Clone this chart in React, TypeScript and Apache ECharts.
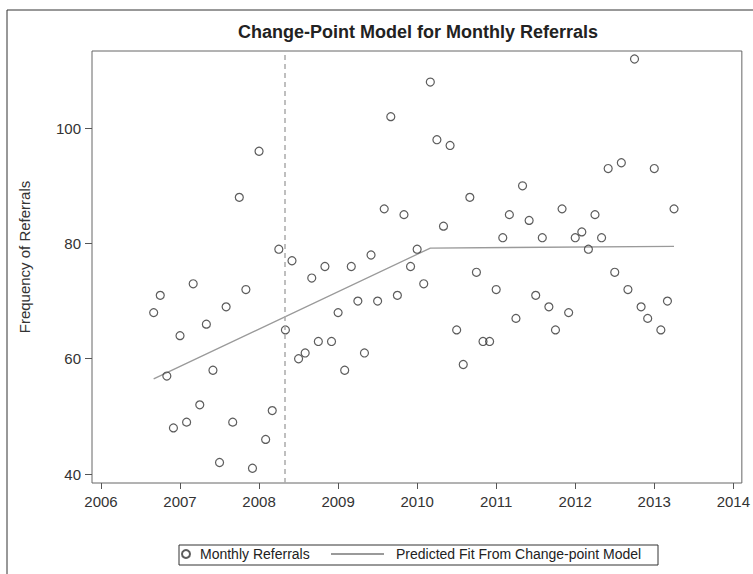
import React, { useEffect, useRef } from "react";
import * as echarts from "echarts";

// Monthly referrals, Sep 2006 .. Apr 2013
const startYear = 2006;
const startMonth = 9;
const referrals = [
  68, 71, 57, 48,
  64, 49, 73, 52, 66, 58, 42, 69, 49, 88, 72, 41,
  96, 46, 51, 79, 65, 77, 60, 61, 74, 63, 76, 63,
  68, 58, 76, 70, 61, 78, 70, 86, 102, 71, 85, 76,
  79, 73, 108, 98, 83, 97, 65, 59, 88, 75, 63, 63,
  72, 81, 85, 67, 90, 84, 71, 81, 69, 65, 86, 68,
  81, 82, 79, 85, 81, 93, 75, 94, 72, 112, 69, 67,
  93, 65, 70, 86,
];

// Predicted fit from change-point model: [year, month] and value
const fitMonths = [
  [2006, 9],
  [2010, 3],
  [2013, 4],
];
const fitValues = [56.5, 79.2, 79.5];

// Change point (dashed reference line)
const changePoint = [2008, 5];

const xTicks = [2006, 2007, 2008, 2009, 2010, 2011, 2012, 2013, 2014];
const yTicks = [40, 60, 80, 100];

const toYear = (y: number, m: number) => y + (m - 1) / 12;

const FONT = "'Liberation Sans', Arial, sans-serif";

export default function App() {
  const ref = useRef<HTMLDivElement>(null);

  useEffect(() => {
    document.body.style.margin = "0";
    if (!ref.current) return;
    const chart = echarts.init(ref.current, null, { renderer: "svg" });

    const startX = toYear(startYear, startMonth);
    const scatterData = referrals.map((v, i) => [startX + i / 12, v]);
    const fitData = fitMonths.map((ym, i) => [toYear(ym[0], ym[1]), fitValues[i]]);
    const cpX = toYear(changePoint[0], changePoint[1]);

    chart.setOption({
      animation: false,
      backgroundColor: "#fff",
      title: {
        text: "Change-Point Model for Monthly Referrals",
        left: 418,
        top: 23,
        padding: 0,
        textAlign: "center",
        textStyle: { fontFamily: FONT, fontSize: 18, fontWeight: "bold", color: "#222" },
      },
      grid: {
        left: 92,
        right: 9,
        top: 51,
        bottom: 91,
        show: true,
        borderColor: "#666",
        borderWidth: 1,
        backgroundColor: "transparent",
      },
      xAxis: {
        type: "value",
        min: 2005.8865,
        max: 2014.108,
        axisLine: { show: false },
        splitLine: { show: false },
        axisTick: {
          show: true,
          length: 6,
          lineStyle: { color: "#555" },
          customValues: xTicks,
        },
        axisLabel: {
          fontFamily: FONT,
          fontSize: 15,
          color: "#333",
          margin: 11,
          customValues: xTicks,
          formatter: (v: number) => String(v),
        },
      },
      yAxis: {
        type: "value",
        min: 38.44,
        max: 113.39,
        name: "Frequency of Referrals",
        nameLocation: "middle",
        nameRotate: 90,
        nameGap: 60,
        nameTextStyle: { fontFamily: FONT, fontSize: 15, color: "#333", padding: [0, 0, 0, 20] },
        axisLine: { show: false },
        splitLine: { show: false },
        axisTick: {
          show: true,
          length: 7,
          lineStyle: { color: "#555" },
          customValues: yTicks,
        },
        axisLabel: {
          fontFamily: FONT,
          fontSize: 15,
          color: "#333",
          margin: 11,
          customValues: yTicks,
        },
      },
      legend: [
        {
          data: ["Monthly Referrals"],
          left: 181,
          top: 547,
          padding: 0,
          itemWidth: 18,
          itemHeight: 8,
          selectedMode: false,
          textStyle: { fontFamily: FONT, fontSize: 14, color: "#222" },
        },
        {
          data: [
            {
              name: "Predicted Fit From Change-point Model",
              itemStyle: { opacity: 0 },
            },
          ],
          left: 330,
          top: 547,
          padding: 0,
          itemWidth: 53,
          itemHeight: 8,
          selectedMode: false,
          textStyle: { fontFamily: FONT, fontSize: 14, color: "#222", padding: [0, 0, 0, 7] },
        },
      ],
      graphic: [
        {
          type: "rect",
          shape: { x: 7, y: 10, width: 900, height: 700 },
          style: { fill: "none", stroke: "#333", lineWidth: 1 },
          silent: true,
        },
        {
          type: "rect",
          shape: { x: 179, y: 545, width: 479, height: 20 },
          style: { fill: "none", stroke: "#333", lineWidth: 1 },
          silent: true,
        },
      ],
      series: [
        {
          name: "Predicted Fit From Change-point Model",
          type: "line",
          data: fitData,
          symbol: "none",
          lineStyle: { color: "#9a9a9a", width: 1.3 },
          itemStyle: { color: "#9a9a9a" },
          z: 2,
        },
        {
          name: "Monthly Referrals",
          type: "scatter",
          data: scatterData,
          symbol: "circle",
          symbolSize: 8,
          itemStyle: { color: "rgba(255,255,255,0)", borderColor: "#333", borderWidth: 1.2 },
          z: 3,
          markLine: {
            silent: true,
            symbol: ["none", "none"],
            label: { show: false },
            lineStyle: { color: "#aaa", type: [5, 4], width: 1.5 },
            data: [{ xAxis: cpX }],
          },
        },
      ],
    });

    return () => chart.dispose();
  }, []);

  return <div ref={ref} style={{ width: 753, height: 574 }} />;
}
